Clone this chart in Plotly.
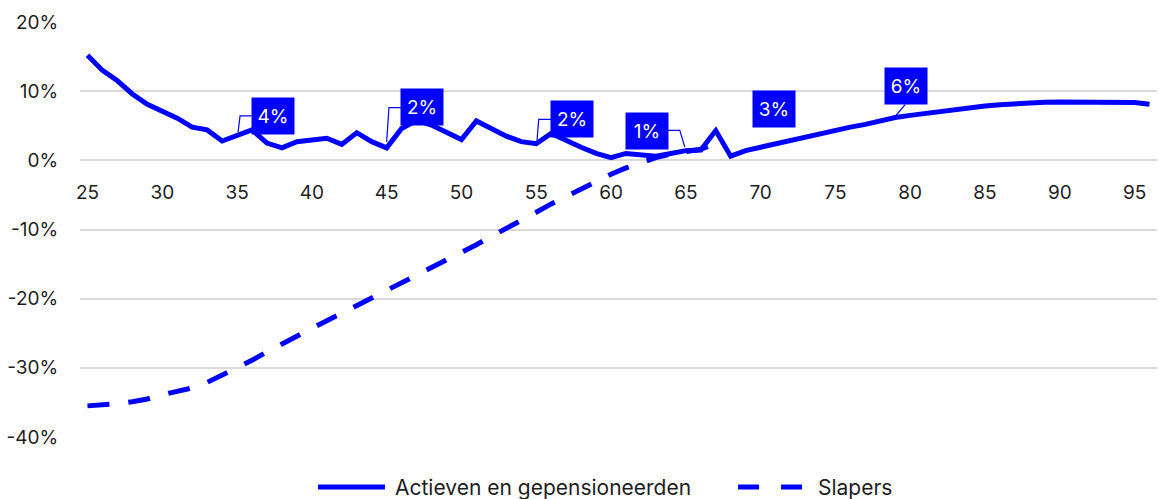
import plotly.graph_objects as go

# Ages on the horizontal axis
ages = list(range(25, 97))

# Actieven en gepensioneerden (% per age)
actieven = [
    15.2, 13.0, 11.5, 9.6, 8.1, 7.1, 6.1, 4.8, 4.4, 2.8,
    3.6, 4.4, 2.5, 1.8, 2.7, 2.9, 3.2, 2.3, 4.0, 2.7,
    1.8, 4.6, 5.8, 5.1, 4.0, 3.0, 5.7, 4.6, 3.5, 2.7,
    2.4, 3.9, 2.8, 1.9, 1.0, 0.4, 1.0, 0.8, 0.6, 1.0,
    1.4, 1.5, 4.3, 0.6, 1.4, 1.9, 2.4, 2.8, 3.3, 3.8,
    4.3, 4.8, 5.2, 5.7, 6.2, 6.5, 6.8, 7.1, 7.35, 7.6,
    7.85, 8.05, 8.2, 8.35, 8.4, 8.45, 8.45, 8.5, 8.5, 8.5,
    8.35, 8.1,
]

# Slapers (% per age, ages 25-67)
slaper_ages = list(range(25, 68))
slapers = [
    -35.5, -35.4, -35.2, -34.9, -34.5, -33.9, -33.4, -32.9, -32.1, -31.1,
    -30.1, -28.9, -27.7, -26.5, -25.4, -24.3, -23.2, -22.1, -21.0, -20.1,
    -19.0, -17.9, -16.7, -15.6, -14.5, -13.3, -12.2, -11.0, -9.9, -8.7,
    -7.5, -6.3, -5.2, -4.1, -3.0, -2.0, -1.1, -0.3, 0.4, 0.9,
    1.2, 1.6, 2.5,
]

# Highlighted ages with a value label on the Actieven line
label_ages = [35, 45, 55, 65, 72, 79]

y_ticks = [20, 10, 0, -10, -20, -30, -40]
x_ticks = list(range(25, 96, 5))

BLUE = "#0000FF"
FONT = "Inter"
TEXT = "#1e1e1e"

fig = go.Figure()

fig.add_trace(go.Scatter(
    x=slaper_ages, y=slapers, mode="lines", name="Slapers",
    line=dict(color=BLUE, width=5, dash="22px,19px"),
    showlegend=False, hoverinfo="skip",
))
fig.add_trace(go.Scatter(
    x=ages, y=actieven, mode="lines", name="Actieven en gepensioneerden",
    line=dict(color=BLUE, width=5),
    showlegend=False, hoverinfo="skip",
))

# Label box offsets (pixels, right/up) and leader paths (pixels, right/up)
label_style = {
    35: dict(shift=(35.5, 19), leader=[(1, 3), (3, 19.5), (14.5, 19.5)]),
    45: dict(shift=(35.5, 40.5), leader=[(0, 6), (2.3, 40.3), (14.7, 40.3)]),
    55: dict(shift=(36, 24.5), leader=[(0.8, 3.4), (2.5, 24.4), (15.2, 24.4)]),
    65: dict(shift=(-39, 20), leader=[(-18.3, 20.3), (-6, 20.3), (-1, 3.6)]),
    72: dict(shift=(-17, 31.5), leader=None),
    79: dict(shift=(11, 31), leader=[(9.9, 12.9), (0.9, 2.2)]),
}

annotations = []
shapes = []
for a in label_ages:
    v = actieven[ages.index(a)]
    st = label_style[a]
    annotations.append(dict(
        x=a, y=v, xref="x", yref="y", text=f"{v:.0f}%",
        showarrow=False, xshift=st["shift"][0], yshift=st["shift"][1],
        bgcolor=BLUE, font=dict(family=FONT, size=19, color="white"),
        width=42, height=36, borderpad=0, align="center", valign="middle",
    ))
    if st["leader"]:
        pts = st["leader"]
        path = "M" + " L".join(f"{px},{py}" for px, py in pts)
        shapes.append(dict(
            type="path", xref="x", yref="y",
            xsizemode="pixel", ysizemode="pixel", xanchor=a, yanchor=v,
            path=path, line=dict(color=BLUE, width=1.2), layer="below",
        ))

# Legend drawn below the plot
leg_y = -0.1205
shapes.append(dict(type="line", xref="paper", yref="paper",
                   x0=0.221, x1=0.2832, y0=leg_y, y1=leg_y,
                   line=dict(color=BLUE, width=5)))
shapes.append(dict(type="line", xref="paper", yref="paper",
                   x0=0.611, x1=0.6704, y0=leg_y, y1=leg_y,
                   line=dict(color=BLUE, width=5, dash="21px,22px")))
annotations.append(dict(x=0.2906, y=leg_y, xref="paper", yref="paper",
                        text="Actieven en gepensioneerden", showarrow=False,
                        xanchor="left", yanchor="middle",
                        font=dict(family=FONT, size=21, color=TEXT)))
annotations.append(dict(x=0.6834, y=leg_y, xref="paper", yref="paper",
                        text="Slapers", showarrow=False,
                        xanchor="left", yanchor="middle",
                        font=dict(family=FONT, size=21, color=TEXT)))

fig.update_layout(
    width=1159, height=499,
    margin=dict(l=80, r=2, t=22, b=62),
    paper_bgcolor="white", plot_bgcolor="white",
    font=dict(family=FONT, size=19, color=TEXT),
    showlegend=False,
    annotations=annotations,
    shapes=shapes,
    xaxis=dict(
        range=[24.5, 96.5], tickvals=x_ticks,
        ticktext=[str(t) for t in x_ticks],
        anchor="free", position=40 / 60,
        showgrid=False, zeroline=False, showline=False,
        ticks="outside", ticklen=15, tickcolor="rgba(0,0,0,0)",
        tickfont=dict(family=FONT, size=19, color=TEXT),
    ),
    yaxis=dict(
        range=[-40, 20], tickvals=y_ticks,
        ticktext=[f"{t}%" for t in y_ticks],
        showgrid=True, gridcolor="#d9d9d9", gridwidth=2,
        zeroline=False, showline=False,
        ticks="outside", ticklen=17, tickcolor="rgba(0,0,0,0)",
        tickfont=dict(family=FONT, size=19, color=TEXT),
    ),
)

fig.write_html("out.html")
